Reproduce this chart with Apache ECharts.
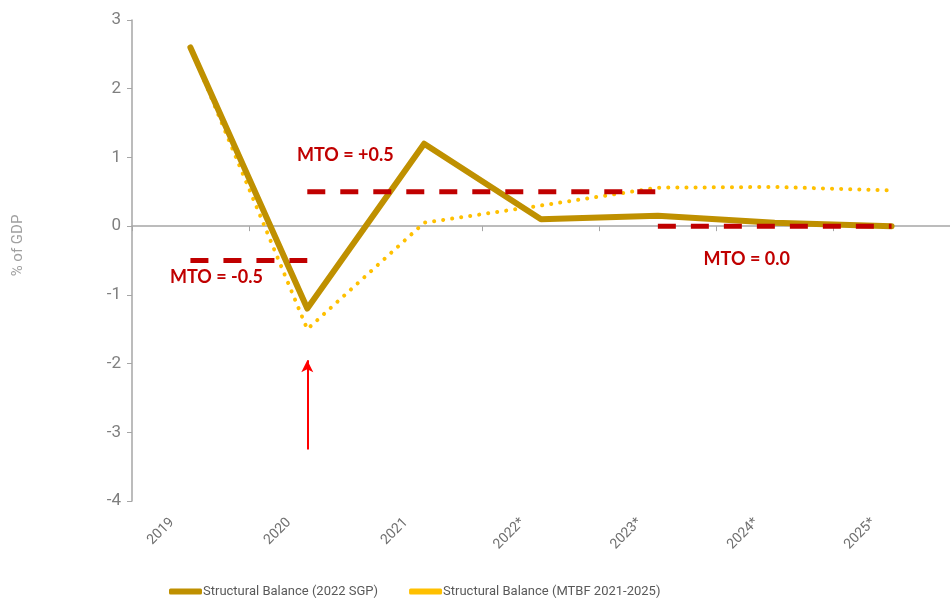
<!DOCTYPE html>
<html>
<head>
<meta charset="utf-8">
<script src="https://cdn.jsdelivr.net/npm/echarts@6/dist/echarts.min.js"></script>
<style>
  html, body { margin: 0; padding: 0; background: #fff; }
  #chart { width: 950px; height: 601px; }
</style>
</head>
<body>
<div id="chart"></div>
<script>
  // years on the category axis
  const years = ['2019', '2020', '2021', '2022*', '2023*', '2024*', '2025*']
  // structural balance, % of GDP
  const sgp2022 = [2.6, -1.2, 1.2, 0.1, 0.15, 0.05, 0.0]
  const mtbf = [2.6, -1.5, 0.05, 0.3, 0.56, 0.57, 0.52]
  // medium-term objectives, drawn as dashed segments
  const mtoLow = [-0.5, -0.5, null, null, null, null, null]
  const mtoHigh = [null, 0.5, 0.5, 0.5, 0.5, null, null]
  const mtoZero = [null, null, null, null, 0.0, 0.0, 0.0]
  // red arrow under 2020
  const arrowFrom = ['2020', -3.25]
  const arrowTo = ['2020', -1.95]

  const red = '#C00000'
  const gray = '#7f7f7f'

  const chart = echarts.init(document.getElementById('chart'))

  function mtoSeries(name, data, labelText, at, offset) {
    return {
      name: name,
      type: 'line',
      data: data,
      symbol: 'none',
      z: 5,
      lineStyle: { color: red, width: 5, type: [18, 15], cap: 'butt' },
      markPoint: {
        symbol: 'circle',
        symbolSize: 0,
        data: [{ coord: at }],
        label: {
          show: true,
          position: 'inside',
          offset: offset,
          formatter: labelText,
          color: red,
          fontFamily: 'Lato',
          fontWeight: 'bold',
          fontSize: 18
        }
      },
      silent: true
    }
  }

  chart.setOption({
    animation: false,
    grid: { left: 132, right: -4, top: 20, bottom: 100 },
    legend: {
      bottom: -2,
      left: 164,
      data: ['Structural Balance (2022 SGP)', 'Structural Balance (MTBF 2021-2025)'],
      icon: 'roundRect',
      itemWidth: 33,
      itemHeight: 6,
      itemGap: 31,
      textStyle: { color: '#595959', fontSize: 13, fontFamily: 'Roboto', padding: [0, 0, 0, -4] }
    },
    xAxis: [{
      type: 'category',
      data: years,
      position: 'bottom',
      axisLine: { show: false, onZero: false },
      axisTick: { show: false },
      axisLabel: {
        rotate: 45,
        margin: 1,
        padding: [0, 26, 0, 0],
        color: '#707070',
        fontSize: 14,
        fontFamily: 'Roboto'
      }
    }, {
      type: 'category',
      data: years,
      position: 'bottom',
      axisLine: { show: true, onZero: true, lineStyle: { color: '#a6a6a6', width: 1.5 } },
      axisTick: { show: true, length: 5, lineStyle: { color: '#a6a6a6' } },
      axisLabel: { show: false }
    }],
    yAxis: {
      type: 'value',
      min: -4,
      max: 3,
      interval: 1,
      name: '% of GDP',
      nameLocation: 'middle',
      nameGap: 106,
      nameTextStyle: { color: '#a0a0a0', fontSize: 15, fontFamily: 'Roboto', padding: [0, 0, 0, 30] },
      axisLine: { show: true, lineStyle: { color: '#a6a6a6', width: 1.5 } },
      axisTick: { show: true, length: 5, lineStyle: { color: '#a6a6a6' } },
      splitLine: { show: false },
      axisLabel: { color: gray, fontSize: 17, fontFamily: 'Roboto', margin: 11 }
    },
    series: [
      {
        name: 'Structural Balance (MTBF 2021-2025)',
        type: 'line',
        data: mtbf,
        symbol: 'none',
        color: '#FFC000',
        z: 3,
        lineStyle: { color: '#FFC000', width: 4, type: [0.1, 9], cap: 'round' }
      },
      {
        name: 'Structural Balance (2022 SGP)',
        type: 'line',
        data: sgp2022,
        symbol: 'none',
        color: '#BF9000',
        z: 4,
        lineStyle: { color: '#BF9000', width: 6, cap: 'round', join: 'round' },
        markLine: {
          silent: true,
          symbol: ['none', 'arrow'],
          symbolSize: [9, 12],
          label: { show: false },
          lineStyle: { color: '#FF0000', width: 2, type: 'solid' },
          data: [[{ coord: arrowFrom }, { coord: arrowTo }]]
        }
      },
      mtoSeries('MTO -0.5', mtoLow, 'MTO = -0.5', ['2019', -0.5], [26, 17]),
      mtoSeries('MTO +0.5', mtoHigh, 'MTO = +0.5', ['2020', 0.5], [38, -37]),
      mtoSeries('MTO 0.0', mtoZero, 'MTO = 0.0', ['2024*', 0.0], [-28, 33])
    ]
  })
</script>
</body>
</html>
